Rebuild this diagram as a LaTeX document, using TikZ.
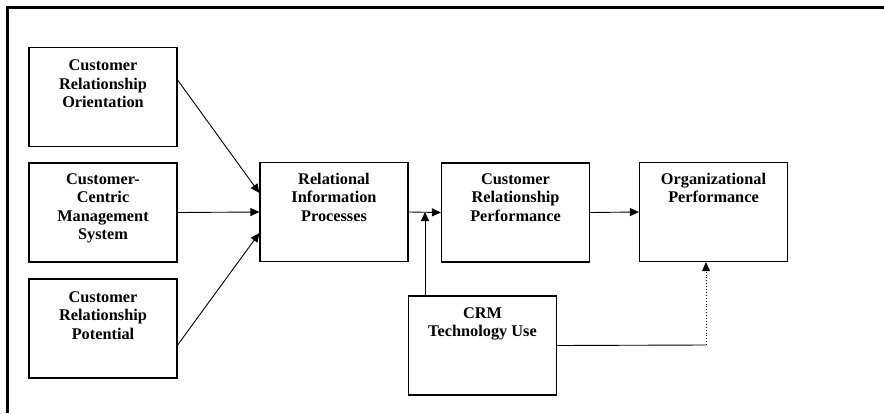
\documentclass[tikz,border=0pt]{standalone}
\usepackage{fontspec}
\setmainfont{Liberation Serif}
\usetikzlibrary{arrows.meta}
\begin{document}
\begin{tikzpicture}[x=1pt,y=-1pt,
  box/.style={draw, line width=1.2pt, rectangle, minimum width=148pt, minimum height=99pt, inner sep=0pt},
  txt/.style={anchor=north, align=center, inner sep=0pt, font=\fontsize{16.3pt}{18.5pt}\selectfont\bfseries},
  link/.style={line width=0.9pt, -{Triangle[length=9pt,width=8pt]}},
  plain/.style={line width=0.9pt},
  frame/.style={line width=2.6pt}]
  \useasboundingbox (0,0) rectangle (884,413);
  % open frame: top and left sides only
  \draw[frame] (884,7.5) -- (7.5,7.5) -- (7.5,413);

  % boxes
  \node[box] (cro)  at (103,97)   {};
  \node[box] (ccms) at (103,212.5) {};
  \node[box] (crp)  at (103,328.5) {};
  \node[box] (rip)  at (334,212)  {};
  \node[box] (crpf) at (515.5,212.5) {};
  \node[box] (orgp) at (713.5,212) {};
  \node[box] (tech) at (482.5,345.5) {};

  % box texts
  \node[txt] (t-cro)  at ([yshift=-13pt]cro.north)  {Customer\\Relationship\\Orientation};
  \node[txt] (t-ccms) at ([yshift=-11pt]ccms.north) {Customer-\\Centric\\Management\\System};
  \node[txt] (t-crp)  at ([yshift=-13pt]crp.north)  {Customer\\Relationship\\Potential};
  \node[txt] (t-rip)  at ([yshift=-11pt]rip.north)  {Relational\\Information\\Processes};
  \node[txt] (t-crpf) at ([yshift=-11pt]crpf.north) {Customer\\Relationship\\Performance};
  \node[txt] (t-orgp) at ([yshift=-11pt]orgp.north) {Organizational\\Performance};
  \node[txt] (t-tech) at ([yshift=-12pt]tech.north) {CRM\\Technology Use};

  % connectors
  \draw[link] ([yshift=17pt]cro.east) -- ([yshift=19pt]rip.west);
  \draw[link] (ccms.east) -- (rip.west);
  \draw[link] ([yshift=-16.5pt]crp.east) -- ([yshift=-21pt]rip.west);
  \draw[link] (rip.east) -- (crpf.west);
  \draw[link] (crpf.east) -- (orgp.west);

  \coordinate (junc) at (rip.east -| 425,0);
  \draw[link] (tech.north -| junc) -- (junc);

  \coordinate (bend) at (706,345);
  \draw[plain] (tech.east) -- (bend);
  \draw[link, dotted] (bend) -- (orgp.south -| bend);
\end{tikzpicture}
\end{document}
